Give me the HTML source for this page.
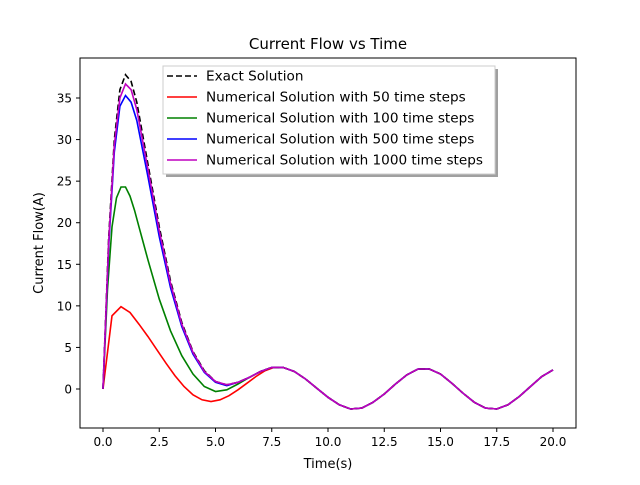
<!DOCTYPE html>
<html><head><meta charset="utf-8"><style>
body{margin:0;background:#fff;font-family:"Liberation Sans",sans-serif}
svg text{font-family:"DejaVu Sans","Liberation Sans",sans-serif}
</style></head><body>
<svg id="c" width="640" height="480" xmlns="http://www.w3.org/2000/svg">
<rect width="640" height="480" fill="#fff"/>
<text x="328" y="49" font-size="15" text-anchor="middle">Current Flow vs Time</text>
<text x="328" y="468" font-size="13" text-anchor="middle">Time(s)</text>
<text transform="translate(43,243) rotate(-90)" font-size="13" text-anchor="middle">Current Flow(A)</text>
<g id="ticks"></g>
<g id="series"></g>
<rect x="80" y="58" width="496" height="370" fill="none" stroke="#000" stroke-width="1"/>
<g id="legend"></g>
</svg>
<script>
const xTicks=[0,2.5,5,7.5,10,12.5,15,17.5,20];
const xTickLabels=["0.0","2.5","5.0","7.5","10.0","12.5","15.0","17.5","20.0"];
const yTicks=[0,5,10,15,20,25,30,35];
const yTickLabels=["0","5","10","15","20","25","30","35"];
const tailT=[8,8.5,9,9.5,10,10.5,11,11.5,12,12.5,13,13.5,14,14.5,15,15.5,16,16.5,17,17.5,18,18.5,19,19.5,20];
const tailV=[2.6,2.1,1.2,0.1,-1.0,-1.9,-2.4,-2.3,-1.6,-0.6,0.6,1.7,2.4,2.4,1.8,0.7,-0.5,-1.6,-2.3,-2.4,-1.9,-0.9,0.3,1.5,2.3];
const exactT=[0,0.25,0.5,0.75,1,1.25,1.5,2,2.5,3,3.5,4,4.5,5,5.5,6,6.5,7,7.5];
const exactV=[0,18,30,36,37.8,37,34.5,27,19.5,13,8,4.5,2.2,0.9,0.5,0.8,1.4,2.1,2.6];
const s50T=[0,0.4,0.8,1.2,1.6,2.0,2.4,2.8,3.2,3.6,4.0,4.4,4.8,5.2,5.6,6.0,6.4,6.8,7.2,7.6];
const s50V=[0,8.8,9.9,9.2,7.8,6.3,4.7,3.1,1.6,0.3,-0.7,-1.3,-1.5,-1.3,-0.8,-0.1,0.7,1.5,2.2,2.6];
const s100T=[0,0.2,0.4,0.6,0.8,1.0,1.2,1.4,1.6,1.8,2.0,2.5,3.0,3.5,4.0,4.5,5.0,5.5,6.0,6.5,7.0,7.5];
const s100V=[0,12,19.5,23,24.3,24.3,23.2,21.5,19.5,17.5,15.5,10.8,7.0,4.0,1.8,0.3,-0.3,-0.1,0.6,1.4,2.1,2.6];
const s500T=[0,0.25,0.5,0.75,1,1.25,1.5,2,2.5,3,3.5,4,4.5,5,5.5,6,6.5,7,7.5];
const s500V=[0,17,28.5,34,35.3,34.5,32.3,25.5,18.3,12.2,7.5,4.2,2.0,0.8,0.4,0.8,1.4,2.1,2.6];
const s1000T=[0,0.25,0.5,0.75,1,1.25,1.5,2,2.5,3,3.5,4,4.5,5,5.5,6,6.5,7,7.5];
const s1000V=[0,17.5,29.3,35,36.7,36,33.6,26.4,19,12.7,7.8,4.4,2.1,0.9,0.5,0.8,1.4,2.1,2.6];
const names=["Exact Solution","Numerical Solution with 50 time steps","Numerical Solution with 100 time steps","Numerical Solution with 500 time steps","Numerical Solution with 1000 time steps"];
const X=t=>103+t*22.5, Y=v=>389-v*8.314;
const NS="http://www.w3.org/2000/svg";
function mk(tag,attrs,parent){const e=document.createElementNS(NS,tag);for(const k in attrs)e.setAttribute(k,attrs[k]);parent.appendChild(e);return e;}
const tg=document.getElementById('ticks');
xTicks.forEach((t,i)=>{
 const l=mk('line',{x1:X(t),x2:X(t),y1:428,y2:432,stroke:'#000'},tg);
 
 
 const tx=mk('text',{x:X(t),y:446,'font-size':12,'text-anchor':'middle'},tg);tx.textContent=xTickLabels[i];
 
 
});
yTicks.forEach((v,i)=>{
 const l=mk('line',{x1:76,x2:80,y1:Y(v),y2:Y(v),stroke:'#000'},tg);
 
 
 const tx=mk('text',{x:72,y:Y(v)+4.5,'font-size':12,'text-anchor':'end'},tg);tx.textContent=yTickLabels[i];
 
 
});
const sg=document.getElementById('series');
const series=[
 [s50T.concat(tailT),s50V.concat(tailV),'#ff0000',null,'series-50-steps'],
 [s100T.concat(tailT),s100V.concat(tailV),'#008000',null,'series-100-steps'],
 [s500T.concat(tailT),s500V.concat(tailV),'#0000ff',null,'series-500-steps'],
 [exactT.concat(tailT),exactV.concat(tailV),'#000000','6,3','series-exact'],
 [s1000T.concat(tailT),s1000V.concat(tailV),'#bf00bf',null,'series-1000-steps']
];
series.forEach(s=>{
 const d=s[0].map((t,i)=>(i?'L':'M')+X(t).toFixed(1)+','+Y(s[1][i]).toFixed(1)).join('');
 const p=mk('path',{d:d,fill:'none',stroke:s[2],'stroke-width':1.6},sg);
 if(s[3])p.setAttribute('stroke-dasharray',s[3]);
 
 
});
const lg=document.getElementById('legend');
mk('rect',{x:166,y:69,width:332,height:108,fill:'#777',opacity:0.7},lg);
mk('rect',{x:163,y:66,width:332,height:108,fill:'#fff',stroke:'#ccc'},lg);
const cols=['#000000','#ff0000','#008000','#0000ff','#bf00bf'];
names.forEach((n,i)=>{
 const y=76+i*21;
 const l=mk('line',{x1:167,x2:197,y1:y,y2:y,stroke:cols[i],'stroke-width':1.6},lg);
 if(i===0)l.setAttribute('stroke-dasharray','6,3');
 
 
 const t=mk('text',{x:206,y:y+4.5,'font-size':13.6},lg);t.textContent=n;
 
 
});
</script>
</body></html>
